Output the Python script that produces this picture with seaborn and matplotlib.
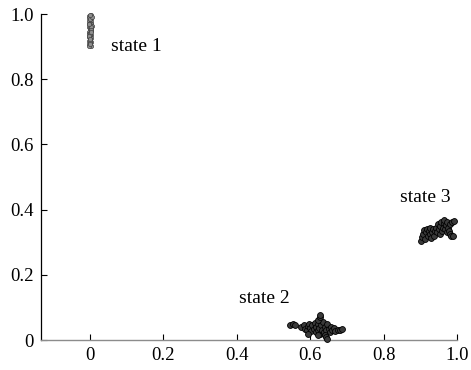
import matplotlib
matplotlib.use("Agg")
import matplotlib.pyplot as plt
import seaborn as sns
import pandas as pd

# ---- data ----
s1_x = [0.002, -0.003, 0.001, -0.002, 0.003, 0.000, -0.004, 0.002, -0.001, 0.003,
        -0.002, 0.001, 0.004, -0.003, 0.000, 0.002, -0.001, 0.003, -0.004, 0.001,
        -0.002, 0.002, 0.000, -0.003, 0.003, -0.001, 0.001, -0.002, 0.002, 0.000,
        -0.003, 0.001, 0.003, -0.002, 0.000, 0.002, -0.001, 0.001, 0.004, -0.004,
        0.003, -0.002, 0.001, 0.000, -0.001, 0.002]
s1_y = [0.998, 0.995, 0.992, 0.989, 0.986, 0.983, 0.980, 0.977, 0.974, 0.971,
        0.968, 0.965, 0.962, 0.959, 0.956, 0.953, 0.950, 0.947, 0.944, 0.941,
        0.938, 0.935, 0.932, 0.929, 0.926, 0.923, 0.920, 0.917, 0.914, 0.911,
        0.908, 0.905, 0.903, 0.901, 0.985, 0.960, 0.940, 0.915, 0.990, 0.970,
        0.952, 0.934, 0.924, 0.996, 0.907, 0.945]

s2_x = [0.545, 0.552, 0.558, 0.575, 0.582, 0.585, 0.590, 0.593, 0.598, 0.600,
        0.603, 0.606, 0.610, 0.612, 0.615, 0.617, 0.620, 0.622, 0.625, 0.627,
        0.630, 0.632, 0.635, 0.638, 0.640, 0.643, 0.646, 0.650, 0.653, 0.656,
        0.660, 0.664, 0.668, 0.675, 0.682, 0.688, 0.622, 0.626, 0.628, 0.640,
        0.643, 0.646, 0.595, 0.620]
s2_y = [0.045, 0.050, 0.047, 0.040, 0.045, 0.035, 0.030, 0.042, 0.050, 0.038,
        0.028, 0.045, 0.035, 0.052, 0.025, 0.040, 0.030, 0.048, 0.038, 0.020,
        0.045, 0.032, 0.055, 0.025, 0.040, 0.030, 0.048, 0.035, 0.025, 0.040,
        0.030, 0.038, 0.028, 0.032, 0.030, 0.035, 0.062, 0.070, 0.078, 0.015,
        0.008, 0.002, 0.020, 0.015]

s3_x = [0.902, 0.905, 0.908, 0.910, 0.913, 0.916, 0.918, 0.920, 0.923, 0.926,
        0.928, 0.930, 0.933, 0.936, 0.938, 0.940, 0.943, 0.946, 0.948, 0.950,
        0.953, 0.955, 0.957, 0.960, 0.962, 0.964, 0.966, 0.968, 0.970, 0.972,
        0.974, 0.976, 0.978, 0.980, 0.982, 0.988, 0.992, 0.985, 0.990]
s3_y = [0.305, 0.315, 0.325, 0.338, 0.310, 0.330, 0.342, 0.318, 0.335, 0.325,
        0.345, 0.312, 0.330, 0.340, 0.320, 0.335, 0.345, 0.330, 0.355, 0.340,
        0.325, 0.350, 0.362, 0.335, 0.345, 0.358, 0.368, 0.340, 0.352, 0.330,
        0.362, 0.345, 0.335, 0.355, 0.325, 0.362, 0.365, 0.320, 0.318]

labels = ["state 1", "state 2", "state 3"]
label_pos = [(0.057, 0.90), (0.405, 0.128), (0.845, 0.438)]
x_ticks = [0, 0.2, 0.4, 0.6, 0.8, 1.0]
x_tick_labels = ["0", "0.2", "0.4", "0.6", "0.8", "1.0"]
y_ticks = [0, 0.2, 0.4, 0.6, 0.8, 1.0]
y_tick_labels = ["0", "0.2", "0.4", "0.6", "0.8", "1.0"]

# ---- plot ----
sns.set_style("ticks")
plt.rcParams["font.family"] = ["Liberation Serif", "DejaVu Serif"]

fig = plt.figure(figsize=(4.71, 3.70), dpi=100)
ax = fig.add_axes([0.087, 0.081, 0.883, 0.881])

sns.scatterplot(x=s1_x, y=s1_y, ax=ax, s=9, color="#8f8f8f",
                edgecolor="#404040", linewidth=0.5, clip_on=False, zorder=3)
sns.scatterplot(x=s2_x, y=s2_y, ax=ax, s=18, color="#3a3a3a",
                edgecolor="#000000", linewidth=0.6, clip_on=False, zorder=3)
sns.scatterplot(x=s3_x, y=s3_y, ax=ax, s=18, color="#3a3a3a",
                edgecolor="#000000", linewidth=0.6, clip_on=False, zorder=3)

for lab, (lx, ly) in zip(labels, label_pos):
    ax.text(lx, ly, lab, fontsize=14, ha="left", va="center", color="black")

ax.set_xlim(-0.134, 1.0)
ax.set_ylim(0, 1.0)
ax.set_xticks(x_ticks)
ax.set_xticklabels(x_tick_labels)
ax.set_yticks(y_ticks)
ax.set_yticklabels(y_tick_labels)
ax.tick_params(direction="in", length=4, width=0.8, labelsize=13.5, colors="black")
ax.tick_params(axis="x", pad=5)
ax.tick_params(axis="y", pad=5)

for side in ["top", "right"]:
    ax.spines[side].set_visible(False)
ax.spines["left"].set_color("black")
ax.spines["left"].set_linewidth(0.9)
ax.spines["bottom"].set_color("#8c8c8c")
ax.spines["bottom"].set_linewidth(1.0)

fig.savefig("out.png", dpi=100)
